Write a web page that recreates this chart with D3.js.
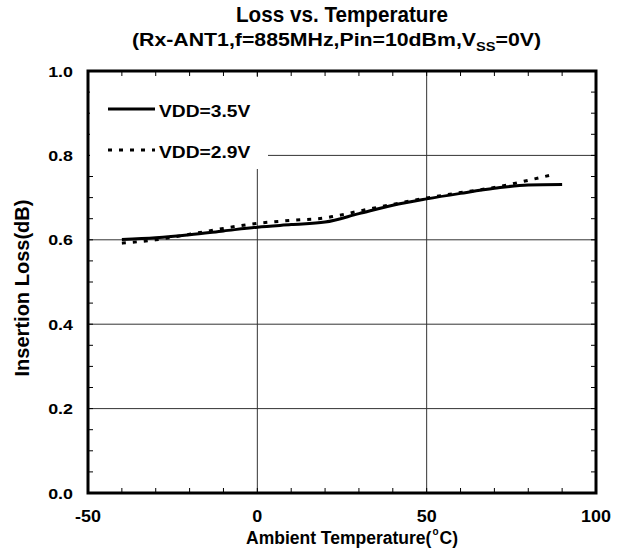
<!DOCTYPE html>
<html>
<head>
<meta charset="utf-8">
<script src="https://cdn.jsdelivr.net/npm/d3@7"></script>
<style>
body { margin: 0; background: #fff; }
text { font-family: Arial, "Liberation Sans", sans-serif; font-weight: bold; fill: #000; }
</style>
</head>
<body>
<div id="chart"></div>
<script>
var w = 629, h = 559;
var m = {left: 88, right: 33, top: 71, bottom: 66};

// values
var temps35 = [-40, -30, -20, -10, 0, 10, 20, 30, 40, 50, 60, 70, 80, 90];
var vdd35   = [0.601, 0.605, 0.612, 0.621, 0.630, 0.636, 0.642, 0.662, 0.682, 0.697, 0.710, 0.722, 0.730, 0.731];
var temps29 = [-40, -30, -20, -10, 0, 10, 20, 30, 40, 50, 60, 70, 80, 88];
var vdd29   = [0.592, 0.600, 0.613, 0.627, 0.639, 0.646, 0.652, 0.668, 0.684, 0.699, 0.712, 0.724, 0.741, 0.756];
var xTicks = [-50, 0, 50, 100];
var yTicks = [0, 0.2, 0.4, 0.6, 0.8, 1.0];
var legendNames = ["VDD=3.5V", "VDD=2.9V"];

var svg = d3.select("#chart").append("svg")
  .attr("width", w).attr("height", h);

var x = d3.scaleLinear().domain([-50, 100]).range([m.left, w - m.right]);
var y = d3.scaleLinear().domain([0, 1]).range([h - m.bottom, m.top]);

// the original text is a bit wider than plain Arial bold
function stretch(sel, k) {
  sel.each(function() {
    var n = this.getComputedTextLength();
    d3.select(this).attr("textLength", n * k).attr("lengthAdjust", "spacingAndGlyphs");
  });
}
function fit(sel, len) {
  sel.attr("textLength", len).attr("lengthAdjust", "spacingAndGlyphs");
}

// grid
svg.selectAll(".gx").data([0, 50]).enter().append("line")
  .attr("x1", d => x(d)).attr("x2", d => x(d))
  .attr("y1", y(1)).attr("y2", y(0))
  .attr("stroke", "#333").attr("stroke-width", 1);
svg.selectAll(".gy").data([0.2, 0.4, 0.6, 0.8]).enter().append("line")
  .attr("x1", x(-50)).attr("x2", x(100))
  .attr("y1", d => y(d)).attr("y2", d => y(d))
  .attr("stroke", "#333").attr("stroke-width", 1);

// minor ticks, pointing inward
var xMinor = d3.range(-40, 100, 10);
var yMinor = d3.range(0.05, 1.0, 0.05);
svg.selectAll(".tb").data(xMinor).enter().append("line")
  .attr("x1", d => x(d)).attr("x2", d => x(d))
  .attr("y1", y(0)).attr("y2", y(0) - 5).attr("stroke", "#000");
svg.selectAll(".tt").data(xMinor).enter().append("line")
  .attr("x1", d => x(d)).attr("x2", d => x(d))
  .attr("y1", y(1)).attr("y2", y(1) + 5).attr("stroke", "#000");
svg.selectAll(".tl").data(yMinor).enter().append("line")
  .attr("x1", x(-50)).attr("x2", x(-50) + 5)
  .attr("y1", d => y(d)).attr("y2", d => y(d)).attr("stroke", "#000");
svg.selectAll(".tr").data(yMinor).enter().append("line")
  .attr("x1", x(100)).attr("x2", x(100) - 5)
  .attr("y1", d => y(d)).attr("y2", d => y(d)).attr("stroke", "#000");

// legend box hides the grid
svg.append("rect").attr("x", x(-50) + 2).attr("y", y(1) + 6)
  .attr("width", 178).attr("height", 92).attr("fill", "#fff");

// lines
var line = d3.line().x(d => x(d[0])).y(d => y(d[1])).curve(d3.curveMonotoneX);
svg.append("path").datum(d3.zip(temps35, vdd35))
  .attr("d", line).attr("fill", "none").attr("stroke", "#000").attr("stroke-width", 3);
svg.append("path").datum(d3.zip(temps29, vdd29))
  .attr("d", line).attr("fill", "none").attr("stroke", "#000").attr("stroke-width", 3)
  .attr("stroke-dasharray", "4,7");

// legend
var lg = svg.selectAll(".lg").data(legendNames).enter().append("g")
  .attr("transform", (d, i) => "translate(108," + (109 + i * 41) + ")");
lg.append("line").attr("x1", 0).attr("x2", 47)
  .attr("stroke", "#000").attr("stroke-width", 3)
  .attr("stroke-dasharray", (d, i) => i ? "4,7" : null);
lg.append("text").attr("x", 51).attr("y", 8).style("font-size", "17px").text(d => d)
  .call(stretch, 1.13);

// frame
svg.append("rect").attr("x", x(-50)).attr("y", y(1))
  .attr("width", x(100) - x(-50)).attr("height", y(0) - y(1))
  .attr("fill", "none").attr("stroke", "#000").attr("stroke-width", 3);

// tick labels
svg.selectAll(".xl").data(xTicks).enter().append("text")
  .attr("x", d => x(d)).attr("y", y(0) + 29)
  .attr("text-anchor", "middle").style("font-size", "16px").text(d => d)
  .call(stretch, 1.12);
svg.selectAll(".yl").data(yTicks).enter().append("text")
  .attr("x", x(-50) - 15).attr("y", d => y(d) + 5.5)
  .attr("text-anchor", "end").style("font-size", "15.5px").text(d => d.toFixed(1))
  .call(stretch, 1.15);

// titles
svg.append("text").attr("x", 236).attr("y", 22)
  .style("font-size", "22px").call(fit, 212)
  .text("Loss vs. Temperature");
var sub = svg.append("text").attr("x", 132).attr("y", 46)
  .style("font-size", "17.5px");
sub.append("tspan").text("(Rx-ANT1,f=885MHz,Pin=10dBm,V");
sub.append("tspan").attr("dy", 5).style("font-size", "12px").text("SS");
sub.append("tspan").attr("dy", -5).text("=0V)");
sub.call(fit, 409);

var xt = svg.append("text").attr("x", 246).attr("y", 544)
  .style("font-size", "17.5px");
xt.append("tspan").text("Ambient Temperature(");
xt.append("tspan").attr("dx", 1).attr("dy", -9).style("font-size", "10px").text("o");
xt.append("tspan").attr("dx", 1).attr("dy", 9).text("C)");

svg.append("text").attr("transform", "translate(29,288) rotate(-90)")
  .attr("text-anchor", "middle").style("font-size", "20px").call(fit, 177)
  .text("Insertion Loss(dB)");
</script>
</body>
</html>
